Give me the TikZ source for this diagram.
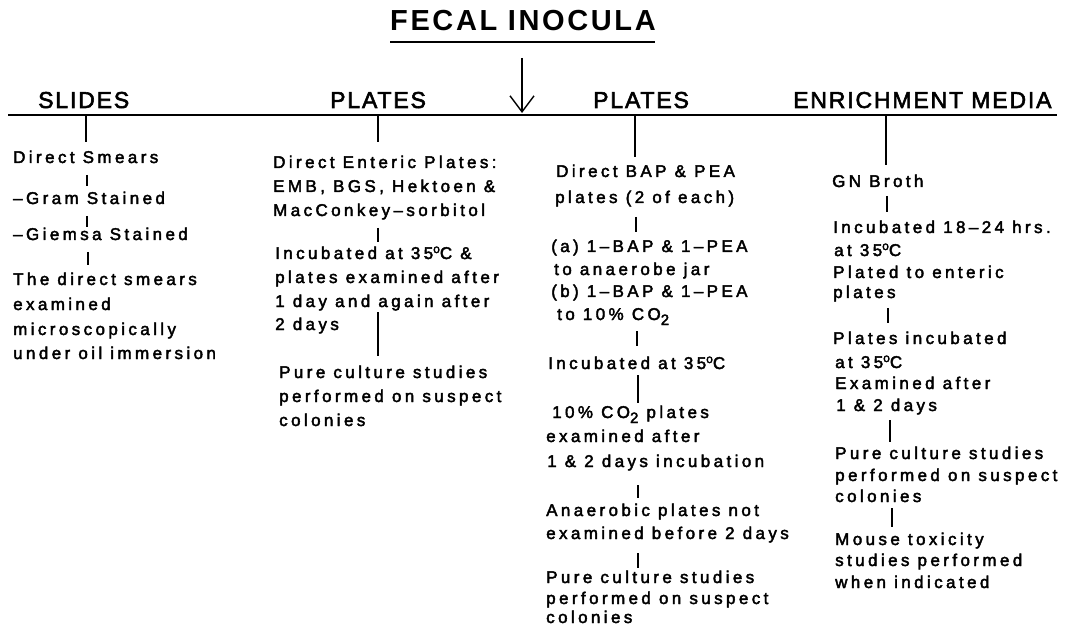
\documentclass[tikz,border=0pt]{standalone}
\usepackage{fontspec}
\usetikzlibrary{arrows.meta}
\setmainfont{Liberation Sans}
\newfontfamily\bodyfont[LetterSpace=20,FakeBold=2.5]{Liberation Sans}
\newfontfamily\headfont[LetterSpace=8,FakeBold=2.5]{Liberation Sans}
\newfontfamily\titlefont[LetterSpace=9]{Liberation Sans}
\newcommand\dg{\raisebox{6pt}{\fontsize{12}{12}\selectfont o}}
\newcommand\lowtwo{\raisebox{-5pt}{\fontsize{15}{15}\selectfont 2}}
\newcommand\tick[4]{\coordinate (#1a) at (#2,#3); \coordinate (#1b) at (#2,#4); \draw[ln] (#1a) -- (#1b);}
\begin{document}
\begin{tikzpicture}[x=1pt,y=-1pt,
  tx/.style={anchor=base west,inner sep=0pt,font=\bodyfont\fontsize{17}{19}\selectfont},
  hd/.style={anchor=base west,inner sep=0pt,font=\headfont\fontsize{23}{26}\selectfont},
  ln/.style={line width=1.4pt}]
\useasboundingbox (0,0) rectangle (1073,628);
% title
\node[anchor=base west,inner sep=0pt,font=\titlefont\bfseries\fontsize{29}{32}\selectfont] (title) at (390,31) {FECAL INOCULA};
\coordinate (ul1) at (390,42); \coordinate (ul2) at (655,42);
\draw[line width=2pt] (ul1) -- (ul2);
\coordinate (arrtop) at (522,58); \coordinate (arrtip) at (522,113);
\draw[ln,-{Straight Barb[length=16pt,width=24pt,line width=1.4pt]}] (arrtop) -- (arrtip);
% headers
\node[hd] (hslides) at (38,108) {SLIDES};
\node[hd] (hplates1) at (330,108) {PLATES};
\node[hd] (hplates2) at (593,108) {PLATES};
\node[hd] (henrich) at (793,108) {ENRICHMENT MEDIA};
\coordinate (hl1) at (8,115); \coordinate (hl2) at (1057,115);
\draw[line width=1.8pt] (hl1) -- (hl2);
% column 1
\tick{c1t}{86}{115}{142}
\node[tx] (s1) at (13,163) {Direct Smears};
\tick{c1u}{87}{175}{186}
\node[tx] (s2) at (13,204) {–Gram Stained};
\tick{c1v}{87}{216}{227}
\node[tx] (s3) at (13,240) {–Giemsa Stained};
\tick{c1w}{88}{252}{265}
\node[tx] (s4) at (13,285) {The direct smears};
\node[tx] (s5) at (13,310) {examined};
\node[tx] (s6) at (13,335) {microscopically};
\node[tx] (s7) at (13,359) {under oil immersion};
% column 2
\tick{c2t}{378}{115}{142}
\node[tx] (p1) at (273,168) {Direct Enteric Plates:};
\node[tx] (p2) at (273,192) {EMB, BGS, Hektoen \&};
\node[tx] (p3) at (273,216) {MacConkey–sorbitol};
\tick{c2u}{378}{228}{242}
\node[tx] (p4) at (275,259) {Incubated at 35\dg C \&};
\node[tx] (p5) at (275,283) {plates examined after};
\node[tx] (p6) at (275,307) {1 day and again after};
\node[tx] (p7) at (275,330) {2 days};
\tick{c2v}{378}{312}{356}
\node[tx] (p8) at (279,378) {Pure culture studies};
\node[tx] (p9) at (279,402) {performed on suspect};
\node[tx] (p10) at (279,426) {colonies};
% column 3
\tick{c3t}{635}{115}{157}
\node[tx] (q1) at (556,177) {Direct BAP \& PEA};
\node[tx] (q2) at (555,203) {plates (2 of each)};
\tick{c3u}{636}{217}{232}
\node[tx] (q3) at (551,252) {(a) 1–BAP \& 1–PEA};
\node[tx] (q4) at (554,275) {to anaerobe jar};
\node[tx] (q5) at (551,297) {(b) 1–BAP \& 1–PEA};
\node[tx] (q6) at (557,320) {to 10\% CO\lowtwo};
\tick{c3v}{637}{331}{346}
\node[tx] (q7) at (548,369) {Incubated at 35\dg C};
\tick{c3w}{638}{375}{403}
\node[tx] (q8) at (552,418) {10\% CO\lowtwo\ plates};
\node[tx] (q9) at (546,442) {examined after};
\node[tx] (q10) at (547,467) {1 \& 2 days incubation};
\tick{c3x}{638}{485}{498}
\node[tx] (q11) at (546,516) {Anaerobic plates not};
\node[tx] (q12) at (546,539) {examined before 2 days};
\tick{c3y}{638}{553}{568}
\node[tx] (q13) at (546,583) {Pure culture studies};
\node[tx] (q14) at (546,604) {performed on suspect};
\node[tx] (q15) at (546,623) {colonies};
% column 4
\tick{c4t}{886}{115}{165}
\node[tx] (r1) at (832,187) {GN Broth};
\tick{c4u}{887}{196}{212}
\node[tx] (r2) at (833,233) {Incubated 18–24 hrs.};
\node[tx] (r3) at (834,256) {at 35\dg C};
\node[tx] (r4) at (833,278) {Plated to enteric};
\node[tx] (r5) at (833,298) {plates};
\tick{c4v}{888}{308}{323}
\node[tx] (r6) at (833,344) {Plates incubated};
\node[tx] (r7) at (835,368) {at 35\dg C};
\node[tx] (r8) at (835,389) {Examined after};
\node[tx] (r9) at (836,411) {1 \& 2 days};
\tick{c4w}{890}{420}{442}
\node[tx] (r10) at (835,459) {Pure culture studies};
\node[tx] (r11) at (835,481) {performed on suspect};
\node[tx] (r12) at (835,502) {colonies};
\tick{c4x}{892}{508}{527}
\node[tx] (r13) at (835,545) {Mouse toxicity};
\node[tx] (r14) at (835,566) {studies performed};
\node[tx] (r15) at (835,588) {when indicated};
\end{tikzpicture}
\end{document}
